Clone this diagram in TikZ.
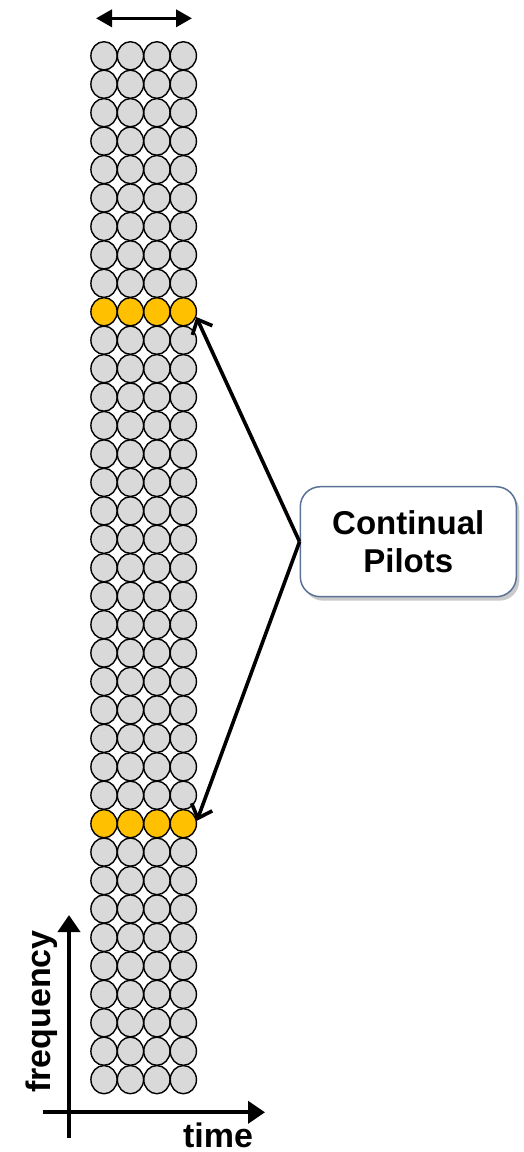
\documentclass[tikz,border=0pt]{standalone}
\usepackage{fontspec}
\setmainfont{Liberation Sans}
\usetikzlibrary{shapes.geometric,arrows.meta,shadows}
\definecolor{cellgray}{HTML}{D9D9D9}
\definecolor{pilotyellow}{HTML}{FFC000}
\definecolor{boxborder}{HTML}{5A7297}
\begin{document}
\begin{tikzpicture}[x=1pt,y=-1pt,
  cell/.style={ellipse,draw=black,line width=1.4pt,fill=cellgray,minimum width=26.2pt,minimum height=28.2pt,inner sep=0pt},
  pilot/.style={cell,fill=pilotyellow},
  axis/.style={line width=4pt,-{Triangle[length=17pt,width=22pt]}},
  callout/.style={draw=boxborder,line width=1.5pt,fill=white,rounded corners=20pt,minimum width=216pt,minimum height=110pt,align=center,
     font=\bfseries\fontsize{33}{38.5}\selectfont,
     drop shadow={shadow xshift=3pt,shadow yshift=-4pt,opacity=0.35,fill=black!60}},
  pointer/.style={line width=3.6pt,-{Straight Barb[length=12pt,width=22pt,line width=3.6pt]}},
  headtip/.style={Triangle[length=16pt,width=17pt]},
  lbl/.style={font=\bfseries\fontsize{34}{40}\selectfont,inner sep=0pt}]
\useasboundingbox (0,0) rectangle (524,1152);
% grid of cells
\foreach \i in {0,...,36}{
  \foreach \j in {0,...,3}{
    \pgfmathsetmacro{\cx}{104+26.45*\j}
    \pgfmathsetmacro{\cy}{55.8+28.44*\i}
    \ifnum\i=9
      \node[pilot] (c-\i-\j) at (\cx,\cy) {};
    \else\ifnum\i=27
      \node[pilot] (c-\i-\j) at (\cx,\cy) {};
    \else
      \node[cell] (c-\i-\j) at (\cx,\cy) {};
    \fi\fi
  }
}
% top double arrow
\coordinate (tl) at (96,18.3);
\coordinate (tr) at (192,18.3);
\draw[line width=3.6pt,{Triangle[length=16pt,width=17pt]}-{Triangle[length=16pt,width=17pt]}] (tl) -- (tr);
% callout
\node[callout] (box) at (408.3,541.7) {Continual\\Pilots};
\draw[pointer] (box.west) -- (c-9-3.-22);
\draw[pointer] (box.west) -- (c-27-3.12);
% axes
\coordinate (yb) at (69,1138);
\coordinate (yt) at (69,915);
\coordinate (xl) at (42.7,1112.3);
\coordinate (xr) at (265,1112.3);
\draw[axis] (yb) -- (yt);
\draw[axis] (xl) -- (xr);
\node[lbl,anchor=base,rotate=90] (freq) at (50,1011.5) {frequency};
\node[lbl,anchor=base] (time) at (218,1147) {time};
\end{tikzpicture}
\end{document}
